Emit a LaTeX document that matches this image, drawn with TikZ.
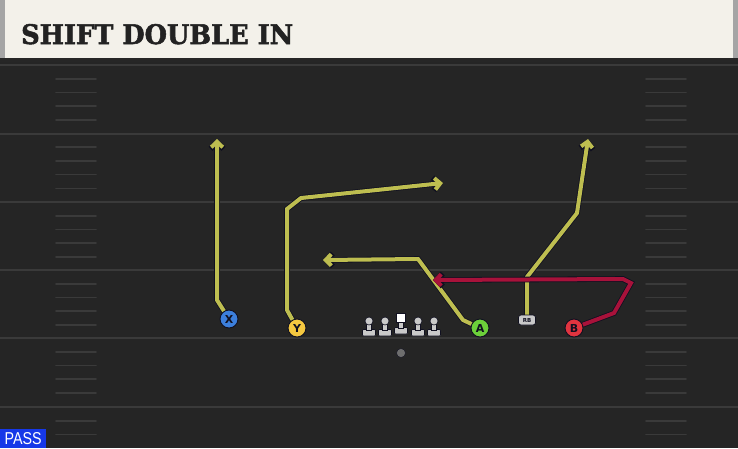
\documentclass[tikz,border=0pt]{standalone}
\usepackage{fontspec}
\usetikzlibrary{arrows.meta}
\newfontfamily\titlefont{DejaVu Serif}[BoldFont=* Bold, BoldFeatures={FakeBold=2}]
\newfontfamily\labelfont{DejaVu Sans}
\newfontfamily\passfont{Liberation Sans}
\definecolor{fieldbg}{HTML}{252525}
\definecolor{yardc}{HTML}{3A3A3A}
\definecolor{hashc}{HTML}{3A3A3A}
\definecolor{headerbg}{HTML}{F3F1EA}
\definecolor{headeredge}{HTML}{A5A5A5}
\definecolor{titlec}{HTML}{222222}
\definecolor{ylw}{HTML}{BEBE50}
\definecolor{redr}{HTML}{A8123A}
\definecolor{outl}{HTML}{101020}
\definecolor{xblue}{HTML}{3C7FDC}
\definecolor{yyel}{HTML}{F5C840}
\definecolor{agreen}{HTML}{6CD03A}
\definecolor{bred}{HTML}{E0343F}
\definecolor{olc}{HTML}{C9C9C9}
\definecolor{passblue}{HTML}{1638E8}
\definecolor{qbc}{HTML}{6E6E6E}
\tikzset{
  yard/.style={draw=yardc, line width=2pt},
  hashm/.style={draw=hashc, line width=1.6pt, line cap=round},
  player/.style={circle, draw=outl, line width=0.9pt, minimum size=18pt, inner sep=0pt,
    font=\labelfont\bfseries\fontsize{11}{11}\selectfont, text=outl},
  routeout/.style={draw=outl, line width=5.6pt, line join=miter, -{Straight Barb[length=6pt,width=13pt]}},
  routeyl/.style={draw=ylw, line width=4pt, line join=miter, -{Straight Barb[length=5.5pt,width=11.5pt]}},
  routerd/.style={draw=redr, line width=4pt, line join=miter, -{Straight Barb[length=5.5pt,width=11.5pt]}},
  olman/.style={fill=olc, draw=outl, line width=0.6pt},
}
\newcommand\myyroute[1]{\draw[routeout] #1; \draw[routeyl] #1;}
\newcommand\myrroute[1]{\draw[routeout] #1; \draw[routerd] #1;}
\begin{document}
\begin{tikzpicture}[x=1pt,y=-1pt]
\useasboundingbox (0,0) rectangle (738,448);
% field
\fill[fieldbg] (0,0) rectangle (738,448);
% header
\fill[headeredge] (0,0) rectangle (738,59);
\fill[headerbg] (5,0) rectangle (733,58);
\fill[black!85] (0,58) rectangle (738,62);
\node[anchor=base west, inner sep=0pt, text=titlec] (title) at (21,44)
  {\resizebox{272pt}{20pt}{\titlefont\bfseries SHIFT DOUBLE IN}};
% yard lines
\foreach \yy in {65,133.5,202,270,338,407}
  \draw[yard] (0,\yy) -- (738,\yy);
% hash marks
\foreach \yy in {65,133.5,202,270,338,407}{
  \foreach \k in {1,2,3,4}{
    \pgfmathsetmacro\hy{\yy+13.7*\k}
    \ifdim\hy pt<446pt
      \draw[hashm] (56,\hy) -- (96,\hy);
      \draw[hashm] (646,\hy) -- (686,\hy);
    \fi
  }
}
% players
\node[player, fill=xblue] (X) at (229,319) {X};
\node[player, fill=yyel] (Y) at (297,328) {Y};
\node[player, fill=agreen] (A) at (480,328) {A};
\node[player, fill=bred] (B) at (574,328) {B};
\node[rounded corners=2.5pt, fill=olc, draw=outl, line width=0.7pt, minimum width=17pt, minimum height=10pt,
  inner sep=0pt, font=\labelfont\bfseries\fontsize{5.5}{5.5}\selectfont, text=outl] (RB) at (527,320) {RB};
% linemen
\foreach \lx/\nm in {369/LT,385/LG,418/RG,434/RT}{
  \fill[olman, rounded corners=1pt] (\lx-6.5,329.5) rectangle (\lx+6.5,336);
  \fill[olman] (\lx-2.5,322) rectangle (\lx+2.5,330.5);
  \node[circle, fill=olc, draw=outl, line width=0.6pt, minimum size=8pt, inner sep=0pt] (\nm) at (\lx,321) {};
}
\fill[olman, rounded corners=1pt] (394.5,327.5) rectangle (407.5,334);
\fill[olman] (398.5,321) rectangle (403.5,328.5);
\node[fill=white, draw=outl, line width=0.6pt, minimum size=9pt, inner sep=0pt] (C) at (401,318) {};
\node[circle, fill=qbc, draw=outl, line width=0.4pt, minimum size=9pt, inner sep=0pt] (QB) at (401,353) {};
% route bend points
\coordinate (x1) at (217,300); \coordinate (x2) at (217,139);
\coordinate (y1) at (287,310); \coordinate (y2) at (287,209); \coordinate (y3) at (301,198); \coordinate (y4) at (443,183);
\coordinate (a1) at (463,320); \coordinate (a2) at (418,259); \coordinate (a3) at (323,260);
\coordinate (r1) at (527,277); \coordinate (r2) at (577,213); \coordinate (r3) at (588,139);
\coordinate (b1) at (614,313); \coordinate (b2) at (631,283); \coordinate (b3) at (623,279); \coordinate (b4) at (433,280);
% routes
\myyroute{(X) -- (x1) -- (x2)}
\myyroute{(Y) -- (y1) -- (y2) -- (y3) -- (y4)}
\myyroute{(A) -- (a1) -- (a2) -- (a3)}
\myyroute{(RB) -- (r1) -- (r2) -- (r3)}
\myrroute{(B) -- (b1) -- (b2) -- (b3) -- (b4)}
% pass label
\node[fill=passblue, anchor=south west, minimum width=46pt, minimum height=19pt, inner sep=0pt, text=white] (pass) at (0,448)
  {\resizebox{37pt}{12pt}{\passfont PASS}};
\end{tikzpicture}
\end{document}
